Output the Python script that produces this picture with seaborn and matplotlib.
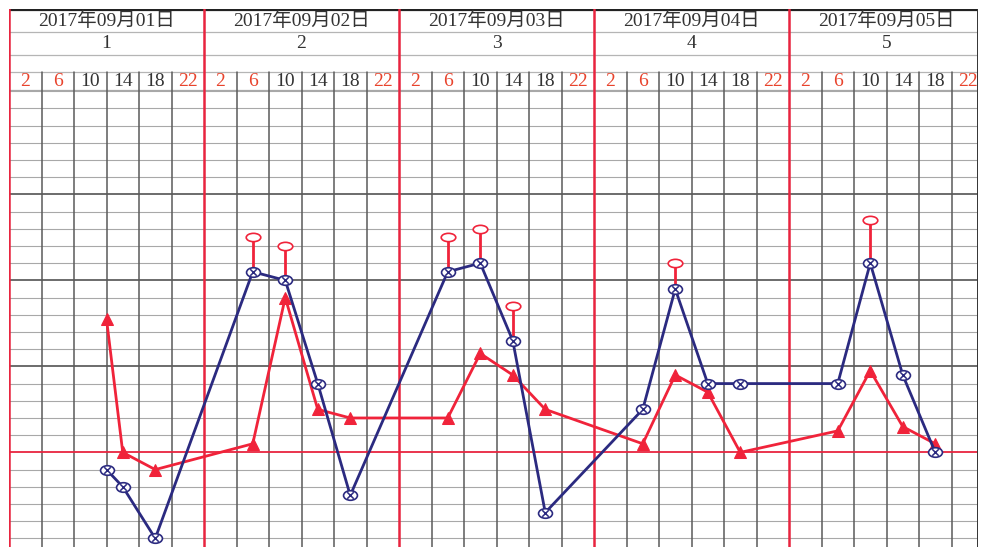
import numpy as np
import pandas as pd
import matplotlib
matplotlib.use("Agg")
import matplotlib.pyplot as plt
import seaborn as sns
from matplotlib.path import Path

# ---------------- data ----------------
dates = ["2017年09月01日", "2017年09月02日", "2017年09月03日", "2017年09月04日", "2017年09月05日"]
day_numbers = ["1", "2", "3", "4", "5"]
time_labels = ["2", "6", "10", "14", "18", "22"]
time_label_red = [True, True, False, False, False, True]

# hours counted from 00:00 of 2017-09-01
temp_hours = [12, 14, 18, 30, 34, 38, 42, 54, 58, 62, 66, 78, 82, 86, 90, 102, 106, 110, 114]
temp_values = [36.8, 36.6, 36.0, 39.1, 39.0, 37.8, 36.5, 39.1, 39.2, 38.3, 36.3,
               37.5, 38.9, 37.8, 37.8, 37.8, 39.2, 37.9, 37.0]
pulse_hours = [12, 14, 18, 30, 34, 38, 42, 54, 58, 62, 66, 78, 82, 86, 90, 102, 106, 110, 114]
pulse_values = [111, 80, 76, 82, 116, 90, 88, 88, 103, 98, 90, 82, 98, 94, 80, 85, 99, 86, 82]
cool_hours = [30, 34, 54, 58, 62, 82, 106]
cool_values = [39.5, 39.4, 39.5, 39.6, 38.7, 39.2, 39.7]

temp_df = pd.DataFrame({"hour": temp_hours, "temp": temp_values})
pulse_df = pd.DataFrame({"hour": pulse_hours, "pulse": pulse_values})
temp_at = dict(zip(temp_hours, temp_values))
cool_df = pd.DataFrame({"hour": cool_hours, "cool": cool_values,
                        "base": [temp_at[h] for h in cool_hours]})

# ---------------- style ----------------
sns.set_theme(style="white")
plt.rcParams["font.family"] = ["Liberation Serif", "Noto Sans CJK SC", "DejaVu Sans"]

NAVY = "#2b2a80"
RED = "#f0233a"
GRID_RED = "#e8243f"
TXT_RED = "#e8432c"
GRID_DARK = "#5a5a5a"
GRID_LIGHT = "#a8a8a8"

W, H = 985, 547
X0, X1 = 9, 978
GRID_TOP = 90.7
HEAD_TOP = 9
PX_PER_HOUR = 8.125
XMAX = (X1 - X0) / PX_PER_HOUR
T_LO, T_HI = 35.9, 41.205
P_LO, P_HI = 80 + (T_LO - 37) * 20, 80 + (T_HI - 37) * 20

fig = plt.figure(figsize=(W / 100, H / 100), dpi=100)
fig.patch.set_facecolor("white")

ax = fig.add_axes([X0 / W, 0, (X1 - X0) / W, (H - GRID_TOP) / H])
hx = fig.add_axes([X0 / W, (H - GRID_TOP) / H, (X1 - X0) / W, (GRID_TOP - HEAD_TOP) / H])

for a in (ax, hx):
    a.set_xlim(0, XMAX)
    for s in a.spines.values():
        s.set_visible(False)
    a.set_xticks([])
    a.set_yticks([])
    a.set_facecolor("white")

ax.set_ylim(T_LO, T_HI)

# ---------------- grid ----------------
for t in np.arange(36.0, 41.21, 0.2):
    t = round(t, 1)
    if abs(t - 37.0) < 1e-6:
        ax.axhline(t, color=GRID_RED, lw=1.3, zorder=2)
    elif abs(t - round(t)) < 1e-6 and t in (38.0, 39.0, 40.0):
        ax.axhline(t, color="#444444", lw=1.1, zorder=1)
    else:
        ax.axhline(t, color=GRID_LIGHT, lw=0.8, zorder=1)
for h in range(0, 120, 4):
    if h % 24 == 0:
        continue
    ax.axvline(h, color=GRID_DARK, lw=1.1, zorder=1)
for d in range(5):
    ax.axvline(d * 24, color=GRID_RED, lw=1.8, zorder=2)
ax.axvline(XMAX, color="#333333", lw=1.4, zorder=2)

# ---------------- header ----------------
hx.set_ylim(GRID_TOP, HEAD_TOP)
hx.axhline(HEAD_TOP + 0.6, color="#222222", lw=1.6)
for yy in (31.7, 55.0, 72.0):
    hx.axhline(yy, color="#b5b5b5", lw=0.9)
hx.axhline(GRID_TOP - 0.3, color=GRID_LIGHT, lw=0.9)
for d in range(5):
    hx.axvline(d * 24, color=GRID_RED, lw=1.8)
    for k in range(1, 6):
        hx.plot([d * 24 + 4 * k] * 2, [72.0, GRID_TOP], color=GRID_DARK, lw=1.1)
    hx.text(d * 24 + 12, 21.0, dates[d], ha="center", va="center", fontsize=14, color="#333333")
    hx.text(d * 24 + 12, 44.0, day_numbers[d], ha="center", va="center", fontsize=14, color="#333333")
    for k, (lab, isred) in enumerate(zip(time_labels, time_label_red)):
        hx.text(d * 24 + 2 + 4 * k, 82.0, lab, ha="center", va="center", fontsize=14,
                color=TXT_RED if isred else "#333333")
hx.axvline(XMAX, color="#333333", lw=1.4)

# ---------------- data layers ----------------
ax_p = ax.twinx()
ax_p.set_ylim(P_LO, P_HI)
ax_t = ax.twinx()
ax_t.set_ylim(T_LO, T_HI)
for a in (ax_p, ax_t):
    a.set_xlim(0, XMAX)
    a.set_yticks([])
    a.set_ylabel("")
    a.patch.set_visible(False)
    for s in a.spines.values():
        s.set_visible(False)

# pulse (red triangles)
sns.lineplot(data=pulse_df, x="hour", y="pulse", ax=ax_p, color=RED, lw=2.0,
             marker="^", markersize=9, markerfacecolor=RED, markeredgecolor=RED,
             legend=False, zorder=3)

# physical cooling marks
ax_t.vlines(cool_df["hour"], cool_df["base"], cool_df["cool"], color=RED, lw=2.0, zorder=3)
circ = Path.unit_circle()
ell_red = Path(circ.vertices * np.array([1.75, 1.0]), circ.codes)
sns.scatterplot(data=cool_df, x="hour", y="cool", ax=ax_t, marker=ell_red, s=110,
                facecolor="white", edgecolor=RED, linewidth=1.2, zorder=4, legend=False)

# temperature (blue)
ell_blue = Path(circ.vertices * np.array([1.45, 1.0]), circ.codes)
sns.lineplot(data=temp_df, x="hour", y="temp", ax=ax_t, color=NAVY, lw=2.0,
             marker=ell_blue, markersize=10, markerfacecolor="white",
             markeredgecolor=NAVY, markeredgewidth=1.2, legend=False, zorder=5)
sns.scatterplot(data=temp_df, x="hour", y="temp", ax=ax_t, marker="x", s=22,
                color=NAVY, linewidth=1.1, zorder=6, legend=False)

for a in (ax, ax_p, ax_t):
    a.set_xlabel("")
    a.set_ylabel("")
    a.set_xticks([])
    a.set_yticks([])

fig.savefig("out.png", dpi=100, facecolor="white")
